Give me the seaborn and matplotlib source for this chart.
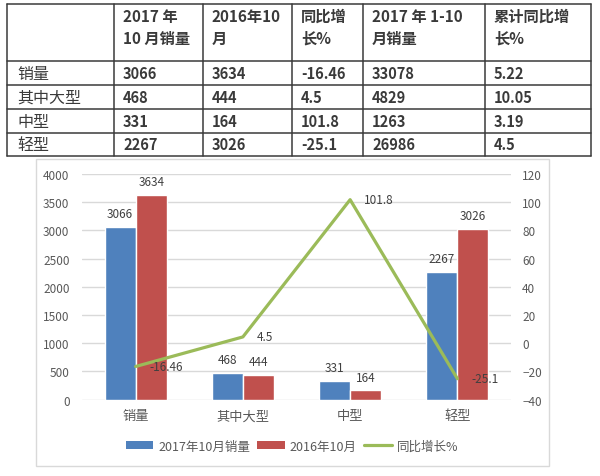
import numpy as np
import pandas as pd
import matplotlib
matplotlib.use("Agg")
import matplotlib.pyplot as plt
import seaborn as sns
from matplotlib.patches import Patch, Rectangle
from matplotlib.lines import Line2D

# ---------------- data ----------------
categories = ["销量", "其中大型", "中型", "轻型"]
sales_oct_2017 = [3066, 468, 331, 2267]
sales_oct_2016 = [3634, 444, 164, 3026]
yoy_pct = [-16.46, 4.5, 101.8, -25.1]
sales_ytd_2017 = [33078, 4829, 1263, 26986]
ytd_yoy_pct = [5.22, 10.05, 3.19, 4.5]
series_names = ["2017年10月销量", "2016年10月", "同比增长%"]
header_lines = [("2017 年", "10 月销量"), ("2016年10", "月"), ("同比增", "长%"),
                ("2017 年 1-10", "月销量"), ("累计同比增", "长%")]
left_ticks = [0, 500, 1000, 1500, 2000, 2500, 3000, 3500, 4000]
right_ticks = [-40, -20, 0, 20, 40, 60, 80, 100, 120]

# ---------------- style ----------------
sns.set_style("white")
plt.rcParams['font.family'] = ['Noto Sans CJK SC', 'DejaVu Sans']

BLUE = "#4F81BD"
RED = "#C0504D"
GREEN = "#9BBB59"
TXT = "#595959"
TABLE_TXT = "#3a3a3a"

W, H = 600, 477
fig = plt.figure(figsize=(W / 100, H / 100), dpi=100)


def fx(x):
    return x / W


def fy(y):
    return 1 - y / H


# ---------------- table ----------------
col_x = [7, 114, 203, 292, 363, 485, 591]
row_y = [5, 62, 86, 110, 134, 157]
line_kw = dict(color="#3a3a3a", lw=1.1, transform=fig.transFigure)
for x in col_x:
    fig.add_artist(Line2D([fx(x), fx(x)], [fy(row_y[0]), fy(row_y[-1])], **line_kw))
for y in row_y:
    fig.add_artist(Line2D([fx(col_x[0]), fx(col_x[-1])], [fy(y), fy(y)], **line_kw))

pad = 9
# header
for j, (l1, l2) in enumerate(header_lines):
    x0 = col_x[j + 1] + pad
    fig.text(fx(x0), fy(17), l1, ha="left", va="center", fontsize=11,
             fontweight="bold", color=TABLE_TXT)
    fig.text(fx(x0), fy(39), l2, ha="left", va="center", fontsize=11,
             fontweight="bold", color=TABLE_TXT)

table_cols = [sales_oct_2017, sales_oct_2016, yoy_pct, sales_ytd_2017, ytd_yoy_pct]
for i, cat in enumerate(categories):
    yc = (row_y[i + 1] + row_y[i + 2]) / 2
    fig.text(fx(col_x[0] + 10), fy(yc), cat, ha="left", va="center",
             fontsize=11.5, color=TABLE_TXT)
    for j, col in enumerate(table_cols):
        fig.text(fx(col_x[j + 1] + pad), fy(yc), str(col[i]), ha="left",
                 va="center", fontsize=10.5, fontweight="bold", color=TABLE_TXT)

# ---------------- chart frame ----------------
fig.add_artist(Rectangle((fx(36), fy(467)), (549 - 36) / W, (467 - 160) / H,
                         transform=fig.transFigure, fill=False,
                         ec="#D9D9D9", lw=1))

# ---------------- chart ----------------
ax = fig.add_axes([fx(82), fy(400.7), (511 - 82) / W, (400.7 - 175) / H])

df = pd.DataFrame({
    "cat": categories * 2,
    "value": sales_oct_2017 + sales_oct_2016,
    "series": [series_names[0]] * len(categories) + [series_names[1]] * len(categories),
})
sns.barplot(data=df, x="cat", y="value", hue="series", order=categories,
            hue_order=series_names[:2], palette=[BLUE, RED], saturation=1,
            width=0.58, gap=0, ax=ax, legend=False, errorbar=None)

ax.set_ylim(left_ticks[0], left_ticks[-1])
ax.set_yticks(left_ticks)
ax.set_xlabel("")
ax.set_ylabel("")
ax.grid(axis="y", color="#D9D9D9", lw=1)
ax.grid(axis="x", visible=False)
ax.set_axisbelow(True)
for s in ax.spines.values():
    s.set_visible(False)
ax.tick_params(axis="y", length=0, pad=9, labelsize=8.5, labelcolor=TXT)
ax.tick_params(axis="x", length=0, pad=7, labelsize=9.5, labelcolor=TXT)

for cont in ax.containers:
    ax.bar_label(cont, padding=5, fontsize=8.5, color="#404040")

ax2 = ax.twinx()
sns.lineplot(x=np.arange(len(categories)), y=yoy_pct, ax=ax2, color=GREEN,
             lw=2.3, sort=False)
ax2.set_ylim(right_ticks[0], right_ticks[-1])
ax2.set_yticks(right_ticks)
ax2.set_ylabel("")
for s in ax2.spines.values():
    s.set_visible(False)
ax2.tick_params(axis="y", length=0, pad=8, labelsize=8.5, labelcolor=TXT)
ax2.grid(False)
ax.set_xlim(-0.5, len(categories) - 0.5)

for (xv, yv) in ax2.lines[0].get_xydata():
    ax2.annotate(f"{yv:g}", (xv, yv), xytext=(10, 0), textcoords="offset points",
                 ha="left", va="center", fontsize=8.5, color="#404040")

# ---------------- legend ----------------
handles = [Patch(facecolor=BLUE, edgecolor="none"),
           Patch(facecolor=RED, edgecolor="none"),
           Line2D([0], [0], color=GREEN, lw=2.3)]
fig.legend(handles, series_names, loc="center", bbox_to_anchor=(fx(292), fy(447)),
           ncol=3, frameon=False, fontsize=9, labelcolor=TXT,
           handlelength=2.2, handleheight=0.6, columnspacing=0.6,
           handletextpad=0.4)

fig.savefig("out.png", dpi=100)
